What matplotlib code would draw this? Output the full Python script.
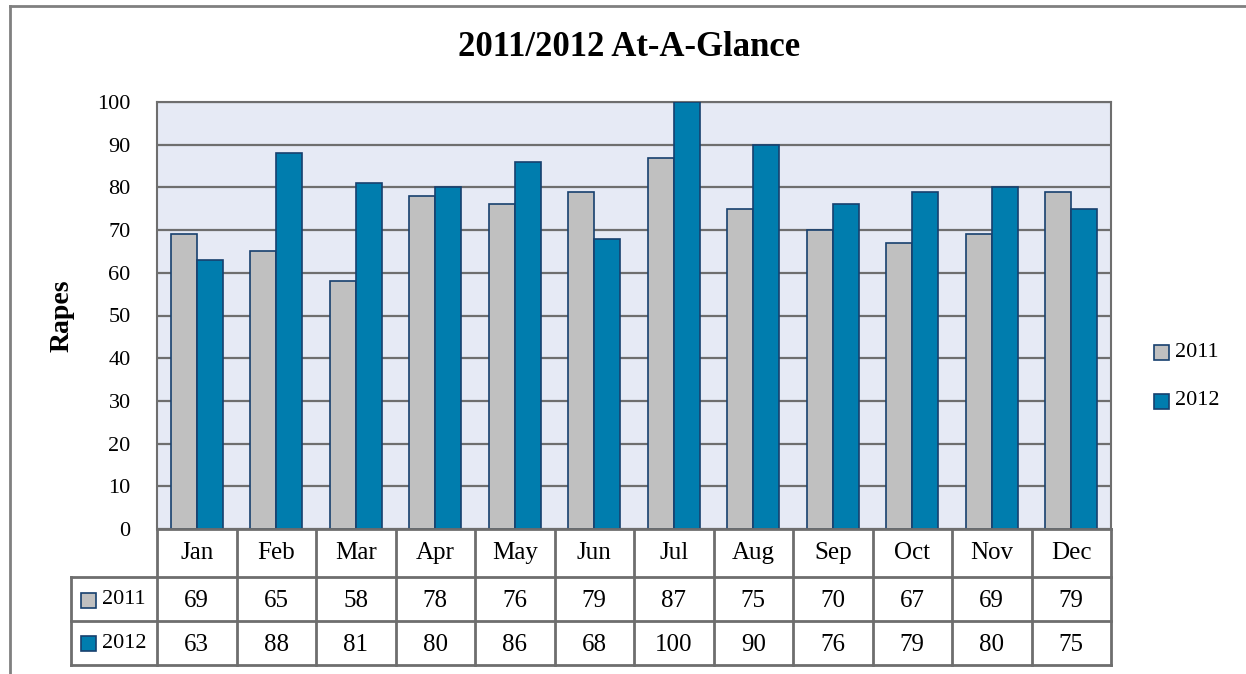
import matplotlib
matplotlib.use('Agg')
import matplotlib.pyplot as plt
import numpy as np
from matplotlib.lines import Line2D
from matplotlib.patches import Rectangle
import matplotlib.transforms as mtransforms

plt.rcParams['font.family'] = ['Liberation Serif', 'DejaVu Serif']

months = ['Jan', 'Feb', 'Mar', 'Apr', 'May', 'Jun', 'Jul', 'Aug', 'Sep', 'Oct', 'Nov', 'Dec']
rapes_2011 = [69, 65, 58, 78, 76, 79, 87, 75, 70, 67, 69, 79]
rapes_2012 = [63, 88, 81, 80, 86, 68, 100, 90, 76, 79, 80, 75]
series_names = ['2011', '2012']

gray_c = '#c0c0c0'
blue_c = '#007dae'
edge_c = '#17406e'
line_c = '#6e6e6e'

W, H = 1246, 674
fig = plt.figure(figsize=(W / 100, H / 100), dpi=100)

def fx(px):
    return px / W

def fy(py):
    return 1 - py / H

# outer frame (only top and left visible)
fig.add_artist(Line2D([fx(10), 1.0], [fy(6), fy(6)], color='#808080', lw=2.0))
fig.add_artist(Line2D([fx(10), fx(10)], [fy(6), 0.0], color='#808080', lw=2.0))

ax = fig.add_axes([fx(157), fy(529), fx(1111) - fx(157), fy(102) - fy(529)])
ax.set_facecolor('#e6eaf5')

x = np.arange(len(months))
bw = 0.33
ax.bar(x - bw / 2, rapes_2011, bw, color=gray_c, edgecolor=edge_c, linewidth=1.2, zorder=3)
ax.bar(x + bw / 2, rapes_2012, bw, color=blue_c, edgecolor=edge_c, linewidth=1.2, zorder=3)

ax.set_xlim(-0.5, len(months) - 0.5)
ax.set_ylim(0, 100)
ax.set_yticks(range(0, 101, 10))
ax.set_xticks([])
ax.yaxis.grid(True, color=line_c, lw=1.6, zorder=1)
ax.tick_params(axis='y', length=0, pad=19, labelsize=16)
for s in ax.spines.values():
    s.set_color(line_c)
    s.set_linewidth(1.5)
ax.spines['bottom'].set_visible(False)

ax.set_ylabel('Rapes', fontsize=20, fontweight='bold')
ax.yaxis.set_label_coords(-0.086, 0.5)
fig.text(fx(629), fy(48), '2011/2012 At-A-Glance', ha='center', va='center',
         fontsize=25, fontweight='bold')

# data table under the plot
trans = mtransforms.blended_transform_factory(ax.transData, fig.transFigure)
row_y = [529, 577, 621, 665]
tlw = 2.0
n = len(months)
# horizontal lines
fig.add_artist(Line2D([fx(157), fx(1111)], [fy(529), fy(529)], color=line_c, lw=tlw))
for py in row_y[1:]:
    fig.add_artist(Line2D([fx(71), fx(1111)], [fy(py), fy(py)], color=line_c, lw=tlw))
# vertical lines
for i in range(n + 1):
    ax.add_line(Line2D([i - 0.5, i - 0.5], [fy(529), fy(665)], transform=trans,
                       color=line_c, lw=tlw, clip_on=False))
fig.add_artist(Line2D([fx(71), fx(71)], [fy(577), fy(665)], color=line_c, lw=tlw))

for i, m in enumerate(months):
    ax.text(i, fy(553), m, transform=trans, ha='center', va='center', fontsize=18)
    ax.text(i, fy(601), str(rapes_2011[i]), transform=trans, ha='center', va='center', fontsize=18)
    ax.text(i, fy(645), str(rapes_2012[i]), transform=trans, ha='center', va='center', fontsize=18)

sq = 15
for name, col, py in zip(series_names, [gray_c, blue_c], [600, 643]):
    fig.add_artist(Rectangle((fx(81), fy(py + sq / 2)), fx(sq), sq / H,
                             facecolor=col, edgecolor=edge_c, lw=1.2))
    fig.text(fx(102), fy(py), name, ha='left', va='center', fontsize=16)

# legend on the right
for name, col, py in zip(series_names, [gray_c, blue_c], [352, 401]):
    fig.add_artist(Rectangle((fx(1154), fy(py + sq / 2)), fx(sq), sq / H,
                             facecolor=col, edgecolor=edge_c, lw=1.2))
    fig.text(fx(1175), fy(py), name, ha='left', va='center', fontsize=16)

fig.savefig('out.png', dpi=100)
